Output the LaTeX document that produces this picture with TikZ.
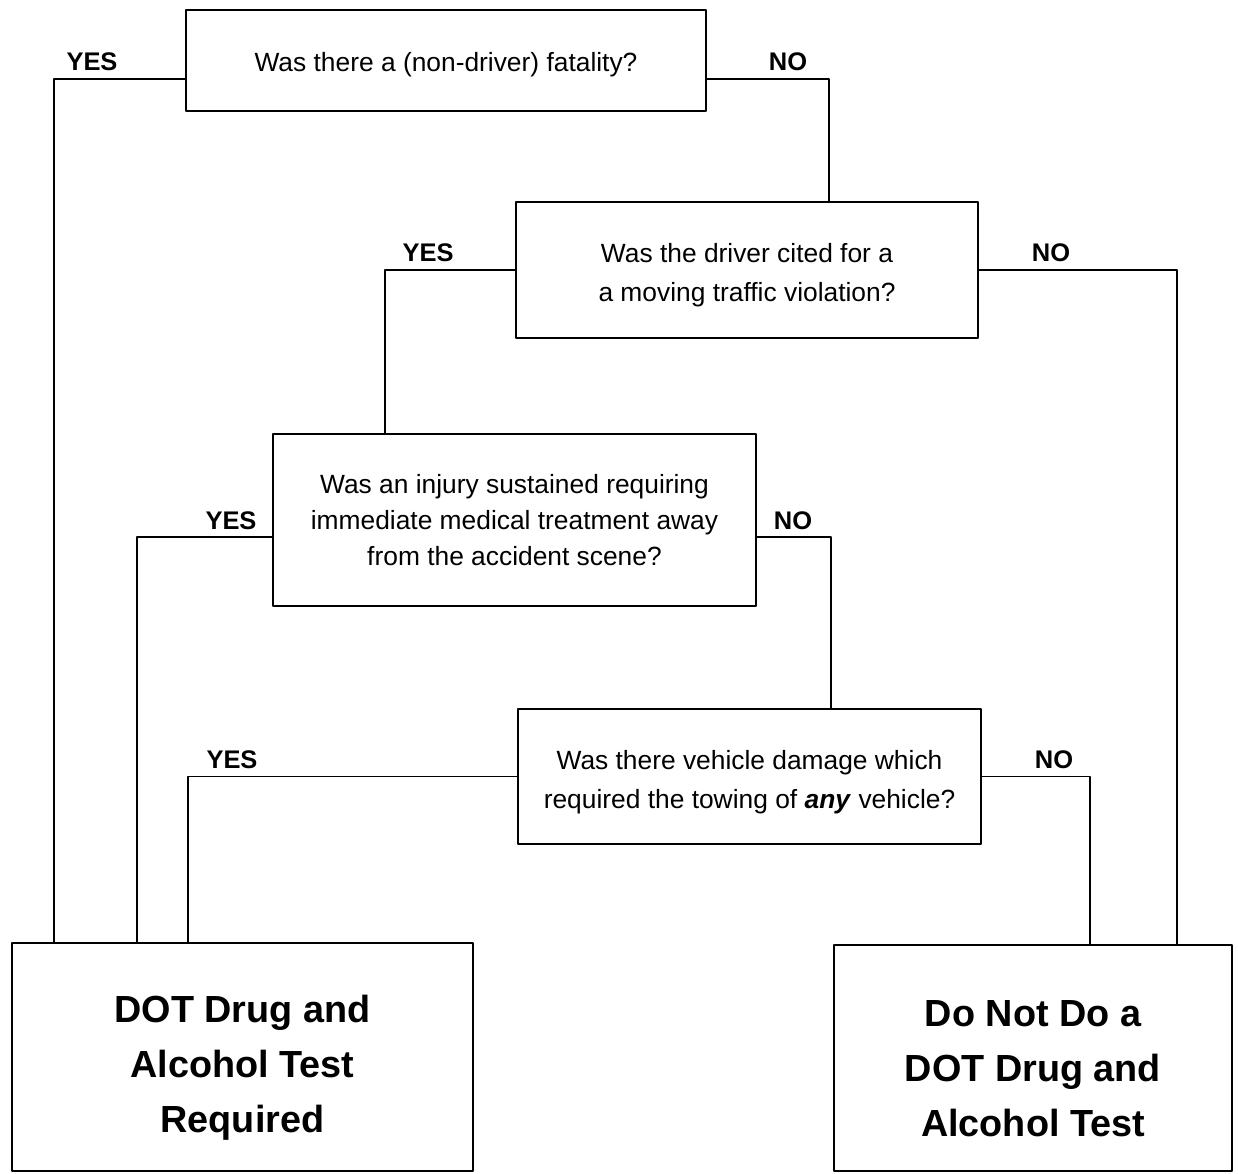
\documentclass[tikz,border=0pt]{standalone}
\usepackage{fontspec}
\setmainfont{Liberation Sans}
\begin{document}
\begin{tikzpicture}[line join = round, line cap = round, line width=1pt,
	ask/.style={draw, line width=1.1pt, align=center, inner sep=0pt, font=\fontsize{15}{20.5}\selectfont},
	verdict/.style={draw, line width=1.3pt, align=center, inner sep=0pt, font=\fontsize{21.5}{31.3}\selectfont\bfseries},
	answer/.style={inner sep=0pt, font=\fontsize{14.5}{17}\selectfont\bfseries}]
			\useasboundingbox (0,0) rectangle (24.76,-23.46);
			\node[ask, minimum width=10.4cm, minimum height=2.02cm] (q1) at (8.92,-1.21) {\rule{0pt}{0.54cm}Was there a (non-driver) fatality?};
			\node[ask, font=\fontsize{15}{22}\selectfont, minimum width=9.24cm, minimum height=2.72cm] (q2) at (14.94,-5.40) {\rule{0pt}{0.6cm}Was the driver cited for a\\a moving traffic violation?};
			\node[ask, minimum width=9.66cm, minimum height=3.44cm] (q3) at (10.29,-10.40) {Was an injury sustained requiring\\immediate medical treatment away\\from the accident scene?};
			\node[ask, font=\fontsize{15}{22}\selectfont, minimum width=9.26cm, minimum height=2.70cm] (q4) at (14.99,-15.53) {\rule{0pt}{0.6cm}Was there vehicle damage which\\required the towing of \textbf{\textit{any}} vehicle?};
			\node[verdict, minimum width=9.22cm, minimum height=4.56cm] (dot) at (4.85,-21.14) {\rule{0pt}{0.96cm}DOT Drug and\\Alcohol Test\\Required};
			\node[verdict, minimum width=7.96cm, minimum height=4.52cm] (notest) at (20.66,-21.16) {\rule{0pt}{0.96cm}Do Not Do a\\DOT Drug and\\Alcohol Test};
			\foreach \n/\x/\y in {1/1.84/-1.24, 2/8.56/-5.06, 3/4.62/-10.42, 4/4.64/-15.2} \node[answer] (yes\n) at (\x,\y) {YES};
			\foreach \n/\x/\y in {1/15.76/-1.24, 2/21.02/-5.06, 3/15.86/-10.42, 4/21.08/-15.2} \node[answer] (no\n) at (\x,\y) {NO};
			\draw ([yshift=-0.37cm]q1.west) -| ([xshift=0.86cm]dot.north west);
			\draw ([yshift=-0.37cm]q1.east) -| ([xshift=6.28cm]q2.north west);
			\draw (q2.west) -| ([xshift=2.26cm]q3.north west);
			\draw (q2.east) -| ([xshift=6.88cm]notest.north west);
			\draw ([yshift=-0.34cm]q3.west) -| ([xshift=2.52cm]dot.north west);
			\draw ([yshift=-0.34cm]q3.east) -| ([xshift=6.28cm]q4.north west);
			\draw (q4.west) -| ([xshift=3.54cm]dot.north west);
			\draw (q4.east) -| ([xshift=5.14cm]notest.north west);
		\end{tikzpicture}
\end{document}
